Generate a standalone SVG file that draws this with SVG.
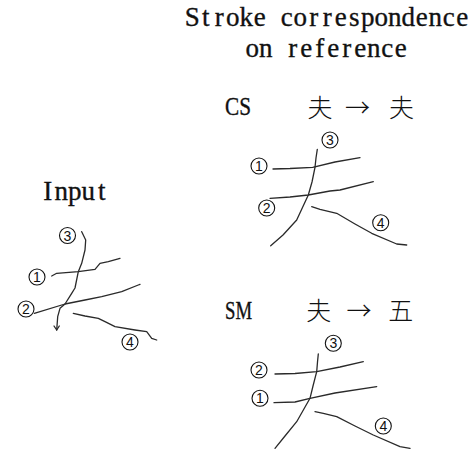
<svg xmlns="http://www.w3.org/2000/svg" width="476" height="451" viewBox="0 0 476 451">
  <style>
    .lbl { font-family: "Liberation Serif", "DejaVu Serif", serif; font-size: 27px; fill: #111; stroke: #111; stroke-width: 0.35; text-anchor: middle; }
    .cap { font-family: "Liberation Serif", "DejaVu Serif", serif; font-size: 26px; fill: #111; stroke: #111; stroke-width: 0.35; }
    .cjk { font-family: "Noto Sans CJK JP", "Noto Sans CJK SC", sans-serif; font-size: 25px; font-weight: 300; fill: #111; text-anchor: middle; }
    .ring { fill: #fff; stroke: #111; stroke-width: 1.1; }
    .dig { font-family: "Liberation Sans", Arial, sans-serif; font-size: 14px; fill: #111; text-anchor: middle; }
    .stk { fill: none; stroke: #2a2a2a; stroke-width: 1.3; stroke-linejoin: round; stroke-linecap: round; }
  </style>
  <rect width="476" height="451" fill="#fff"/>

  <!-- heading -->
  <g id="heading">
    <text class="lbl" y="26" x="192.25 205.75 219.25 232.75 246.25 259.75 273.25 286.75 300.25 313.75 327.25 340.75 354.25 367.75 381.25 394.75 408.25 421.75 435.25 448.75 462.25">Stroke correspondence</text>
    <text class="lbl" y="57" x="252.25 265.75 279.25 292.75 306.25 319.75 333.25 346.75 360.25 373.75 387.25 400.75">on reference</text>
  </g>

  <!-- handwritten input -->
  <g id="input">
    <text class="lbl" y="200" x="47.75 61.25 74.75 88.25 101.75">Input</text>
    <g class="strokes">
      <polyline class="stk" points="51.7,276 56.7,273.3 78.3,271.7 95,269.3 100,263.3 108.3,261.7 120,258.3"/>
      <polyline class="stk" points="34.3,313.3 65,304 85,300 101.7,296.7 121.7,291.7 138.3,285 140,284.3"/>
      <polyline class="stk" points="81.7,231.7 85.7,240 85,250 81.7,263.3 78.3,271.7 75,288 71.7,293.3 65,304 60,308.3 57.7,316.7 56.7,330"/>
      <polyline class="stk" points="54,326 56.7,330 59.3,326"/>
      <polyline class="stk" points="73.3,313.3 85,316 98.3,318.3 105,321.7 115,326.7 135,330 146.7,331.7 151.7,338.3 156.7,340"/>
    </g>
    <g id="in-3"><circle class="ring" cx="67.5" cy="235.5" r="8"/><text class="dig" x="67.5" y="240.5">3</text></g>
    <g id="in-1"><circle class="ring" cx="37" cy="277" r="8"/><text class="dig" x="37" y="282">1</text></g>
    <g id="in-2"><circle class="ring" cx="26" cy="309" r="8"/><text class="dig" x="26" y="314">2</text></g>
    <g id="in-4"><circle class="ring" cx="130" cy="342" r="8"/><text class="dig" x="130" y="347">4</text></g>
  </g>

  <!-- CS matching -->
  <g id="cs">
    <text class="cap" x="225" y="115" textLength="26" lengthAdjust="spacingAndGlyphs">CS</text>
    <text class="cjk" x="320" y="117">夫</text>
    <text class="cjk" x="357.5" y="117">→</text>
    <text class="cjk" x="401.5" y="117">夫</text>
    <g class="strokes">
      <polyline class="stk" points="273,169 290,168.5 312.7,167.3 335,162 360,157.7"/>
      <polyline class="stk" points="270,198.3 290,197 308.3,195 330,191 340,190 373.3,181.7"/>
      <polyline class="stk" points="317.3,149.3 316,158 315,167.3 312,182 308.3,195 296.7,220 283,235 270.7,245.7"/>
      <polyline class="stk" points="311.7,206.7 320,209.3 336.7,213.3 355,224 371.7,233.3 396.7,244 406.7,245"/>
    </g>
    <g id="cs-3"><circle class="ring" cx="330" cy="140" r="8"/><text class="dig" x="330" y="145">3</text></g>
    <g id="cs-1"><circle class="ring" cx="259" cy="166" r="8"/><text class="dig" x="259" y="171">1</text></g>
    <g id="cs-2"><circle class="ring" cx="266.7" cy="208" r="8"/><text class="dig" x="266.7" y="213">2</text></g>
    <g id="cs-4"><circle class="ring" cx="380.7" cy="222.7" r="8"/><text class="dig" x="380.7" y="227.7">4</text></g>
  </g>

  <!-- SM matching -->
  <g id="sm">
    <text class="cap" x="225" y="319" textLength="27" lengthAdjust="spacingAndGlyphs">SM</text>
    <text class="cjk" x="318.7" y="320">夫</text>
    <text class="cjk" x="359" y="320">→</text>
    <text class="cjk" x="400.7" y="320">五</text>
    <g class="strokes">
      <polyline class="stk" points="275,374 295,373.5 316.7,371.7 340,367 363.3,361.7"/>
      <polyline class="stk" points="274,402.7 295,402 310,398.3 335,393 376.7,386.7"/>
      <polyline class="stk" points="318.3,354 317.5,362 316.7,371.7 313,386 310,398.3 296.7,421.7 285,436 275,448.3"/>
      <polyline class="stk" points="315,411.7 323.3,413.3 336.7,416.7 355,426 373.3,435 400,446.7 410,448.3"/>
    </g>
    <g id="sm-3"><circle class="ring" cx="333.3" cy="343.3" r="8"/><text class="dig" x="333.3" y="348.3">3</text></g>
    <g id="sm-2"><circle class="ring" cx="259" cy="370" r="8"/><text class="dig" x="259" y="375">2</text></g>
    <g id="sm-1"><circle class="ring" cx="260" cy="398.3" r="8"/><text class="dig" x="260" y="403.3">1</text></g>
    <g id="sm-4"><circle class="ring" cx="383.3" cy="426" r="8"/><text class="dig" x="383.3" y="431">4</text></g>
  </g>
</svg>
